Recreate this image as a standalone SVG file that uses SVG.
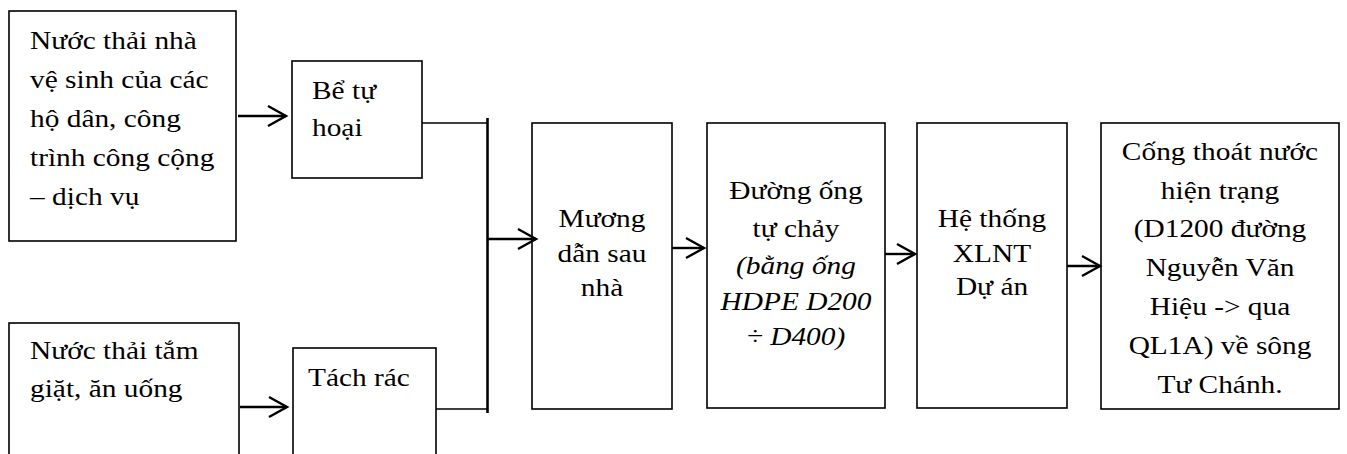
<svg xmlns="http://www.w3.org/2000/svg" width="1347" height="454" viewBox="0 0 1347 454">
<defs>
<style>
.box{fill:#fff;stroke:#000;stroke-width:1.6}
.t{font-size:26px;fill:#000}
.c{text-anchor:middle}
.i{font-style:italic}
.ln{fill:none;stroke:#000;stroke-width:1.6}
.bus{fill:none;stroke:#000;stroke-width:2.6}
.ar{fill:none;stroke:#000;stroke-width:2.4}
</style>
<marker id="ah" markerUnits="userSpaceOnUse" markerWidth="24" markerHeight="24" refX="20" refY="12" orient="auto" viewBox="0 0 24 24">
<path d="M2,2 L20,12 L2,22" fill="none" stroke="#000" stroke-width="2.4"/>
</marker>
</defs>
<rect width="1347" height="454" fill="#fff"/>
<g font-family="'Liberation Serif', 'Times New Roman', serif">
<g id="n1">
<rect class="box" x="9" y="11" width="227" height="230"/>
<g transform="translate(30,0) scale(1.13,1)">
<text class="t" x="0" y="49">Nước thải nhà</text>
<text class="t" x="0" y="88">vệ sinh của các</text>
<text class="t" x="0" y="127">hộ dân, công</text>
<text class="t" x="0" y="166">trình công cộng</text>
<text class="t" x="0" y="205">– dịch vụ</text>
</g>
</g>
<g id="n2">
<rect class="box" x="292" y="61" width="130" height="117"/>
<g transform="translate(312,0) scale(1.13,1)">
<text class="t" x="0" y="99">Bể tự</text>
<text class="t" x="0" y="136">hoại</text>
</g>
</g>
<g id="n3">
<rect class="box" x="9" y="323" width="230" height="140"/>
<g transform="translate(30,0) scale(1.13,1)">
<text class="t" x="0" y="359">Nước thải tắm</text>
<text class="t" x="0" y="397">giặt, ăn uống</text>
</g>
</g>
<g id="n4">
<rect class="box" x="293" y="348" width="143" height="115"/>
<g transform="translate(308,0) scale(1.13,1)">
<text class="t" x="0" y="386">Tách rác</text>
</g>
</g>
<g id="n5">
<rect class="box" x="532" y="123" width="140" height="286"/>
<g transform="translate(602,0) scale(1.13,1)">
<text class="t c" x="0" y="227">Mương</text>
<text class="t c" x="0" y="262">dẫn sau</text>
<text class="t c" x="0" y="296">nhà</text>
</g>
</g>
<g id="n6">
<rect class="box" x="707" y="123" width="178" height="285"/>
<g transform="translate(796,0) scale(1.13,1)">
<text class="t c" x="0" y="199">Đường ống</text>
<text class="t c" x="0" y="237">tự chảy</text>
<text class="t c i" x="0" y="274">(bằng ống</text>
<text class="t c i" x="0" y="310">HDPE D200</text>
<text class="t c i" x="0" y="345">÷ D400)</text>
</g>
</g>
<g id="n7">
<rect class="box" x="917" y="123" width="150" height="285"/>
<g transform="translate(992,0) scale(1.13,1)">
<text class="t c" x="0" y="227">Hệ thống</text>
<text class="t c" x="0" y="262">XLNT</text>
<text class="t c" x="0" y="295">Dự án</text>
</g>
</g>
<g id="n8">
<rect class="box" x="1101" y="123" width="238" height="286"/>
<g transform="translate(1220,0) scale(1.13,1)">
<text class="t c" x="0" y="160">Cống thoát nước</text>
<text class="t c" x="0" y="199">hiện trạng</text>
<text class="t c" x="0" y="237">(D1200 đường</text>
<text class="t c" x="0" y="276">Nguyễn Văn</text>
<text class="t c" x="0" y="315">Hiệu -&gt; qua</text>
<text class="t c" x="0" y="354">QL1A) về sông</text>
<text class="t c" x="0" y="393">Tư Chánh.</text>
</g>
</g>
</g>
<g id="connectors">
<line class="ar" x1="238" y1="116" x2="286" y2="116" marker-end="url(#ah)"/>
<line class="ar" x1="240" y1="407" x2="287" y2="407" marker-end="url(#ah)"/>
<polyline class="ln" points="422,123 487,123"/>
<polyline class="ln" points="436,409 487,409"/>
<line class="bus" x1="487.5" y1="118" x2="487.5" y2="413"/>
<line class="ar" x1="488" y1="239" x2="536" y2="239" marker-end="url(#ah)"/>
<line class="ar" x1="672" y1="248" x2="704" y2="248" marker-end="url(#ah)"/>
<line class="ar" x1="885" y1="254" x2="915" y2="254" marker-end="url(#ah)"/>
<line class="ar" x1="1067" y1="266" x2="1100" y2="266" marker-end="url(#ah)"/>
</g>
</svg>
